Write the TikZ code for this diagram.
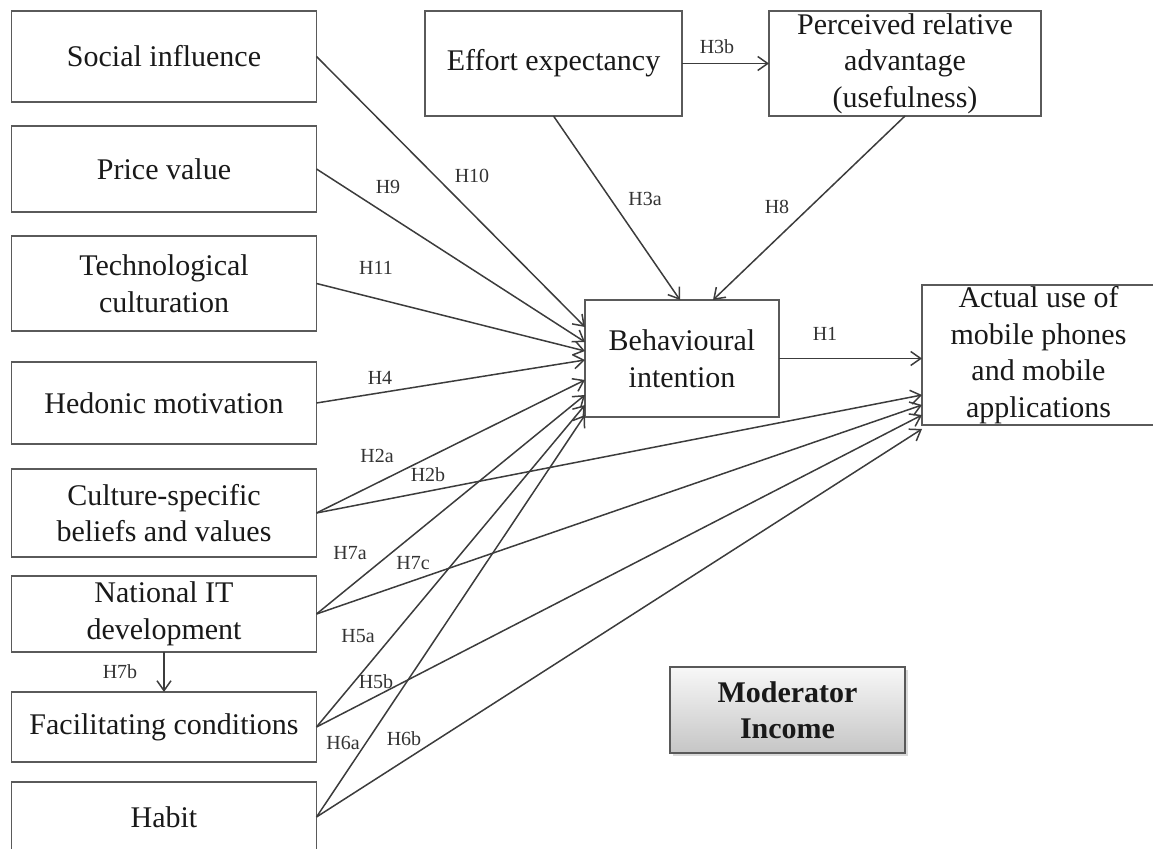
\documentclass[tikz,border=0pt]{standalone}
\usepackage{fontspec}
\setmainfont{Liberation Serif}
\usetikzlibrary{positioning}
\usetikzlibrary{arrows.meta}
\usetikzlibrary{shadows}
\definecolor{linecol}{RGB}{60,60,60}
\definecolor{boxcol}{RGB}{90,90,90}
\tikzstyle{construct}=[rectangle, draw=boxcol, line width=0.8pt, fill=white, align=center, inner sep=0pt, outer sep=0pt, text=black!90, font=\fontsize{15}{18.3}\selectfont]
\tikzstyle{hyp}=[inner sep=0pt, text=black!80, font=\fontsize{10}{12}\selectfont]
\tikzstyle{moderator}=+[construct, draw=black!65, top color=gray!6, bottom color=gray!45, drop shadow={opacity=0.3, shadow xshift=1.5pt, shadow yshift=-1.5pt}, font=\bfseries\fontsize{15}{18}\selectfont]

\begin{document}
\begin{tikzpicture}[x=0.5pt, y=-0.5pt, >={Straight Barb[length=5pt,width=7pt]}]
	\useasboundingbox (0,0) rectangle (1153,849);
	% left column
	\node (social) at (164,56.5) [construct, minimum width=152.5pt, minimum height=45.5pt] {Social influence};
	\node (price) [below = 12pt of social, construct, minimum width=152.5pt, minimum height=43pt] {Price value};
	\node (tech) [below = 12pt of price, construct, minimum width=152.5pt, minimum height=47.5pt] {Technological\\culturation};
	\node (hedonic) [below = 15.5pt of tech, construct, minimum width=152.5pt, minimum height=41pt] {Hedonic motivation};
	\node (culture) [below = 12.5pt of hedonic, construct, minimum width=152.5pt, minimum height=44pt] {Culture-specific\\beliefs and values};
	\node (national) [below = 9.5pt of culture, construct, minimum width=152.5pt, minimum height=38pt] {National IT\\development};
	\node (facil) [below = 20pt of national, construct, minimum width=152.5pt, minimum height=35pt] {Facilitating conditions};
	\node (habit) [below = 10pt of facil, construct, minimum width=152.5pt, minimum height=35pt] {Habit};
	% top row and centre
	\node (effort) at (553.5,63.5) [construct, minimum width=128.5pt, minimum height=52.5pt] {Effort expectancy};
	\node (perceived) [right = 43.5pt of effort, construct, minimum width=136pt, minimum height=52.5pt] {Perceived relative\\advantage\\(usefulness)};
	\node (bi) at (682,358.5) [construct, minimum width=97pt, minimum height=58.5pt] {Behavioural\\intention};
	\node (actual) [right = 71.5pt of bi, yshift=1.75pt, construct, minimum width=116.5pt, minimum height=70pt] {Actual use of\\mobile phones\\and mobile\\applications};
	\node (moderator) at (787.5,710) [moderator, minimum width=117.5pt, minimum height=43pt] {Moderator\\Income};

	\path[->, line width=0.75pt, linecol]
		(social.east) edge ([yshift=15.75pt]bi.west)
		(price.east) edge ([yshift=8.25pt]bi.west)
		(tech.east) edge ([yshift=3.75pt]bi.west)
		(hedonic.east) edge ([yshift=-0.75pt]bi.west)
		(culture.east) edge ([yshift=-10.75pt]bi.west)
		(national.east) edge ([yshift=-18.25pt]bi.west)
		(facil.east) edge ([yshift=-23.25pt]bi.west)
		(habit.east) edge ([yshift=-28.25pt]bi.west)
		(culture.east) edge ([yshift=-20pt]actual.west)
		(national.east) edge ([yshift=-25pt]actual.west)
		(facil.east) edge ([yshift=-30pt]actual.west)
		(habit.east) edge ([yshift=-37pt]actual.west)
		(effort.south) edge ([xshift=-1pt]bi.north)
		(perceived.south) edge ([xshift=15.5pt]bi.north)
		(effort.east) edge (perceived.west)
		(bi.east) edge (bi.east -| actual.west)
		(national.south) edge (facil.north);

	% hypothesis labels
	\node (lH10) at (472,176) [hyp] {H10};
	\node (lH9) at (388,187) [hyp] {H9};
	\node (lH11) at (376,268) [hyp] {H11};
	\node (lH4) at (380,378) [hyp] {H4};
	\node (lH3a) at (645,199) [hyp] {H3a};
	\node (lH8) at (777,207) [hyp] {H8};
	\node (lH3b) at (717,47) [hyp] {H3b};
	\node (lH1) at (825,334) [hyp] {H1};
	\node (lH2a) at (377,456) [hyp] {H2a};
	\node (lH2b) at (428,475) [hyp] {H2b};
	\node (lH7a) at (350,553) [hyp] {H7a};
	\node (lH7c) at (413,563) [hyp] {H7c};
	\node (lH5a) at (358,636) [hyp] {H5a};
	\node (lH5b) at (376,682) [hyp] {H5b};
	\node (lH6a) at (343,743) [hyp] {H6a};
	\node (lH6b) at (404,739) [hyp] {H6b};
	\node (lH7b) at (120,672) [hyp] {H7b};
\end{tikzpicture}
\end{document}
